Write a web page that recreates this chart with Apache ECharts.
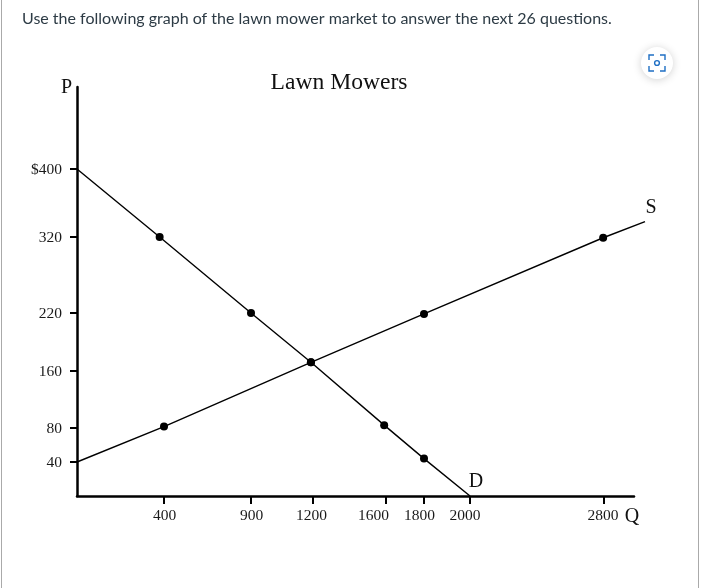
<!DOCTYPE html>
<html><head><meta charset="utf-8">
<style>
html,body{margin:0;padding:0;background:#fff;}
#frame{position:absolute;left:0;top:0;width:701px;height:588px;overflow:hidden;}
#rule{position:absolute;left:1px;top:0;width:696px;height:588px;border-left:1px solid #aaa;border-right:1px solid #aaa;}
#c{position:absolute;left:0;top:0;width:701px;height:588px;}
</style>
<script src="https://cdn.jsdelivr.net/npm/echarts@6/dist/echarts.min.js"></script>
</head><body>
<div id="frame"><div id="c"></div><div id="rule"></div></div>
<script>
// Values
const instruction = 'Use the following graph of the lawn mower market to answer the next 26 questions.';
const chartTitle = 'Lawn Mowers';
const quantityTicks = [400, 900, 1200, 1600, 1800, 2000, 2800];
const priceTicks = [40, 80, 160, 220, 320, 400];
const demandQ = [0, 380, 900, 1190, 1590, 1800, 2000];
const demandP = [400, 320, 220, 169, 84, 44, 0];
const demandDots = [false, true, true, true, true, true, false];
const supplyQ = [0, 400, 1190, 1800, 2795, 3050];
const supplyP = [40, 82, 169, 219, 319, 338];
const supplyDots = [false, true, true, true, true, false];

// The printed axes are not evenly spaced: each tick sits at its own drawn distance along the axis.
const qScaleValues = [0, 400, 900, 1200, 1600, 1800, 2000, 2800, 3050];
const qScaleDrawn  = [0, 87, 174, 236, 309, 347, 393, 527, 568];
const pScaleValues = [0, 40, 80, 160, 220, 320, 400, 500];
const pScaleDrawn  = [0, 34, 68, 125, 183, 259, 327, 409];
// The printed tick labels do not always sit centred under their ticks.
const qLabelDrawn = [87.5, 174.5, 234.5, 296.5, 342.5, 388, 526];
const pLabelShift = -1.3;

function warp(v, from, to) {
  for (let i = 1; i < from.length; i++) {
    if (v <= from[i]) {
      return to[i-1] + (v - from[i-1]) * (to[i] - to[i-1]) / (from[i] - from[i-1]);
    }
  }
  return to[to.length - 1];
}
const qPos = v => warp(v, qScaleValues, qScaleDrawn);
const pPos = v => warp(v, pScaleValues, pScaleDrawn);
const pLabelPos = t => pPos(t) + pLabelShift;

const serif = '"Liberation Serif", "Times New Roman", serif';
const ink = '#1a1a1a';

function build(qs, ps, dots, endText, endOffset) {
  return qs.map((q, i) => {
    const item = {value:[qPos(q), pPos(ps[i])], symbol:'circle', symbolSize: dots[i] ? 8 : 0};
    if (i === qs.length - 1) {
      item.label = {show:true, formatter:endText, position:'top', offset:endOffset, color:'#111', fontFamily:serif, fontSize:20};
    }
    return item;
  });
}

const chart = echarts.init(document.getElementById('c'), null, {renderer:'canvas'});
const blue = '#1f6fc4';
const cx = 657, cy = 63;
const corner = (x1,y1,x2,y2,x3,y3) => ({type:'polyline', shape:{points:[[x1,y1],[x2,y2],[x3,y3]]},
  style:{stroke:blue, lineWidth:1.4, fill:null}, z:21});
chart.setOption({
  animation:false,
  backgroundColor:'#fff',
  title:[
    {text:instruction, left:17, top:6, textStyle:{fontFamily:'Lato', fontSize:16, fontWeight:'normal', color:'#2d3b45'}},
    {text:chartTitle, left:334, textAlign:'center', top:66, textStyle:{fontFamily:serif, fontSize:23.6, fontWeight:'normal', color:'#111'}}
  ],
  grid:[
    {left:77, top:87, width:557, height:409},
    {left:77, top:87, width:600, height:409}
  ],
  xAxis:[{
    type:'value', gridIndex:0, min:0, max:557, name:'Q', nameLocation:'end', nameGap:-2,
    nameTextStyle:{fontFamily:serif, fontSize:20, color:'#111', align:'center', verticalAlign:'top', padding:[11,0,0,0]},
    axisLine:{show:true, lineStyle:{color:'#000', width:2.5}},
    axisTick:{show:true, length:8, customValues:quantityTicks.map(qPos), lineStyle:{color:'#000', width:2}},
    axisLabel:{show:true, customValues:qLabelDrawn, margin:12, fontFamily:serif, fontSize:15.5, color:ink,
      formatter:v => String(quantityTicks[qLabelDrawn.indexOf(v)])},
    splitLine:{show:false}
  },{
    type:'value', gridIndex:1, min:0, max:600, show:false
  }],
  yAxis:[{
    type:'value', gridIndex:0, min:0, max:409, name:'P', nameLocation:'end', nameGap:-1,
    nameTextStyle:{fontFamily:serif, fontSize:20, color:'#111', align:'right', verticalAlign:'middle', padding:[0,5,0,0]},
    axisLine:{show:true, lineStyle:{color:'#000', width:2.5}},
    axisTick:{show:true, length:7, customValues:priceTicks.map(pPos), lineStyle:{color:'#000', width:2}},
    axisLabel:{show:true, customValues:priceTicks.map(pLabelPos), margin:15, fontFamily:serif, fontSize:15.5, color:ink,
      formatter:v => { const t = priceTicks.find(p => Math.abs(pLabelPos(p) - v) < 0.01); return t === 400 ? '$400' : String(t); }},
    splitLine:{show:false}
  },{
    type:'value', gridIndex:1, min:0, max:409, show:false
  }],
  series:[
    {name:'D', type:'line', xAxisIndex:1, yAxisIndex:1, clip:false, showAllSymbol:true,
     lineStyle:{color:'#000', width:1.4}, itemStyle:{color:'#000'},
     data:build(demandQ, demandP, demandDots, 'D', [6,0.5])},
    {name:'S', type:'line', xAxisIndex:1, yAxisIndex:1, clip:false, showAllSymbol:true,
     lineStyle:{color:'#000', width:1.4}, itemStyle:{color:'#000'},
     data:build(supplyQ, supplyP, supplyDots, 'S', [6,1.5])}
  ],
  graphic:[
    {type:'circle', shape:{cx, cy, r:16}, style:{fill:'#fff', shadowBlur:8, shadowColor:'rgba(0,0,0,0.18)', shadowOffsetY:1}, z:20},
    {type:'circle', shape:{cx, cy, r:2.4}, style:{fill:null, stroke:blue, lineWidth:1.4}, z:21},
    corner(cx-8,cy-3,cx-8,cy-8,cx-3,cy-8),
    corner(cx+3,cy-8,cx+8,cy-8,cx+8,cy-3),
    corner(cx-8,cy+3,cx-8,cy+8,cx-3,cy+8),
    corner(cx+3,cy+8,cx+8,cy+8,cx+8,cy+3)
  ]
});
</script>
</body></html>
